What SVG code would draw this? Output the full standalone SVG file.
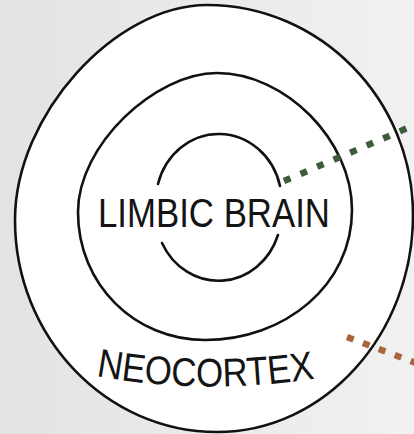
<svg xmlns="http://www.w3.org/2000/svg" width="414" height="434" viewBox="0 0 414 434">
<defs>
<linearGradient id="bg" x1="0" y1="0" x2="1" y2="0">
<stop offset="0" stop-color="#e3e3e3"/>
<stop offset="1" stop-color="#f1f1f1"/>
</linearGradient>
<filter id="soft" x="-10%" y="-10%" width="120%" height="120%"><feGaussianBlur stdDeviation="0.6"/></filter>
</defs>
<style>
.ring{fill:#ffffff;stroke:#111;stroke-width:2.6;stroke-linejoin:round}
.arc{fill:none;stroke:#111;stroke-width:2.6;stroke-linecap:round}
.lbl{font-family:"Liberation Sans",Arial,sans-serif;font-size:40px;fill:#141414}
.dots{fill:none;stroke-width:6.5;stroke-linecap:butt}
</style>
<rect x="0" y="0" width="414" height="434" fill="url(#bg)"/>
<g id="neocortex">
<path class="ring" d="M207,5 C320,5 413,99 413,215 C413,334 325,432 217,432 C106,432 15,337 15,220 C15,115 115,5 207,5 Z"/>
<path id="neoPath" fill="none" stroke="none" d="M96,376 Q205,396 318,378"/>
<text class="lbl"><textPath href="#neoPath" textLength="220" lengthAdjust="spacingAndGlyphs">NEOCORTEX</textPath></text>
</g>
<g id="middle">
<path class="ring" d="M217,73 C285,73 352,140 352,210 C352,285 285,340 205,340 C135,340 78,285 78,212 C78,145 155,73 217,73 Z"/>
</g>
<g id="limbic">
<path class="arc" d="M158,184 A63,68 0 0 1 280,186"/>
<path class="arc" d="M162,243 A63,68 0 0 0 278,235"/>
<text class="lbl" x="98" y="227" textLength="232" lengthAdjust="spacingAndGlyphs">LIMBIC BRAIN</text>
</g>
<g id="connectors" filter="url(#soft)">
<line class="dots" x1="284" y1="181" x2="424" y2="121" stroke="#3f5a3c" stroke-dasharray="7 11"/>
<line class="dots" x1="347" y1="337" x2="424" y2="366" stroke="#a9643c" stroke-dasharray="7 10"/>
</g>
</svg>
